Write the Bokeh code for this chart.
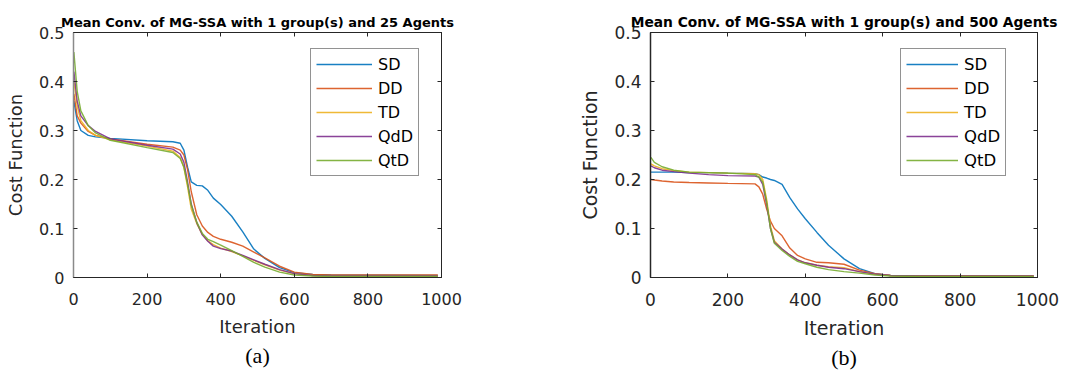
from bokeh.plotting import figure
from bokeh.layouts import row
from bokeh.models import Range1d, LinearAxis, Legend, LegendItem, Title, FixedTicker
from bokeh.embed import file_html
from bokeh.resources import INLINE

series_names = ["SD", "DD", "TD", "QdD", "QtD"]
colors = ["#0072BD", "#D95319", "#EDB120", "#7E2F8E", "#77AC30"]

# Panel (a): 25 agents
iter_a = [1, 10, 20, 40, 60, 100, 200, 270, 290, 300, 310, 320, 335, 350, 365, 380,
          400, 430, 460, 490, 520, 560, 600, 650, 700, 990]
a_SD = [0.36, 0.32, 0.30, 0.29, 0.287, 0.284, 0.279, 0.277, 0.274, 0.26, 0.225, 0.195,
        0.188, 0.187, 0.178, 0.162, 0.149, 0.125, 0.093, 0.058, 0.039, 0.02, 0.01, 0.006, 0.005, 0.004]
a_DD = [0.375, 0.33, 0.315, 0.298, 0.29, 0.283, 0.272, 0.266, 0.26, 0.25, 0.22, 0.175,
        0.128, 0.105, 0.092, 0.084, 0.078, 0.072, 0.064, 0.052, 0.04, 0.023, 0.011, 0.006, 0.005, 0.005]
a_TD = [0.40, 0.35, 0.32, 0.30, 0.29, 0.281, 0.268, 0.258, 0.245, 0.225, 0.185, 0.14,
        0.11, 0.088, 0.075, 0.067, 0.06, 0.053, 0.044, 0.035, 0.026, 0.015, 0.008, 0.004, 0.003, 0.003]
a_QdD = [0.42, 0.36, 0.33, 0.31, 0.298, 0.283, 0.27, 0.262, 0.252, 0.235, 0.195, 0.15,
         0.112, 0.087, 0.074, 0.064, 0.059, 0.054, 0.045, 0.036, 0.027, 0.016, 0.008, 0.004, 0.003, 0.003]
a_QtD = [0.46, 0.38, 0.34, 0.31, 0.295, 0.28, 0.265, 0.255, 0.243, 0.225, 0.19, 0.148,
         0.113, 0.09, 0.078, 0.073, 0.066, 0.055, 0.043, 0.031, 0.021, 0.011, 0.005, 0.003, 0.002, 0.002]

# Panel (b): 500 agents
iter_b = [1, 10, 30, 60, 100, 150, 200, 270, 280, 290, 300, 310, 320, 340, 360, 380,
          400, 430, 460, 500, 540, 580, 620, 700, 990]
b_SD = [0.215, 0.215, 0.215, 0.215, 0.214, 0.214, 0.213, 0.212, 0.21, 0.205, 0.203, 0.2,
        0.198, 0.19, 0.163, 0.14, 0.12, 0.092, 0.066, 0.038, 0.018, 0.008, 0.004, 0.003, 0.003]
b_DD = [0.2, 0.199, 0.197, 0.195, 0.194, 0.193, 0.192, 0.191, 0.185, 0.17, 0.14, 0.115,
        0.1, 0.085, 0.06, 0.045, 0.038, 0.031, 0.03, 0.027, 0.015, 0.008, 0.004, 0.003, 0.003]
b_TD = [0.232, 0.228, 0.222, 0.218, 0.215, 0.214, 0.213, 0.212, 0.21, 0.2, 0.16, 0.105,
        0.075, 0.058, 0.046, 0.036, 0.03, 0.025, 0.022, 0.02, 0.012, 0.007, 0.004, 0.003, 0.003]
b_QdD = [0.228, 0.224, 0.219, 0.216, 0.213, 0.21, 0.208, 0.207, 0.205, 0.19, 0.15, 0.1,
         0.072, 0.058, 0.046, 0.036, 0.03, 0.025, 0.021, 0.018, 0.012, 0.007, 0.004, 0.003, 0.003]
b_QtD = [0.245, 0.235, 0.226, 0.219, 0.215, 0.214, 0.213, 0.21, 0.205, 0.195, 0.155, 0.1,
         0.07, 0.055, 0.043, 0.033, 0.028, 0.021, 0.016, 0.012, 0.009, 0.005, 0.003, 0.002, 0.002]

x_ticks = [0, 200, 400, 600, 800, 1000]
y_ticks = [0, 0.1, 0.2, 0.3, 0.4, 0.5]
titles = ["Mean Conv. of MG-SSA with 1 group(s) and 25 Agents",
          "Mean Conv. of MG-SSA with 1 group(s) and 500 Agents"]
captions = ["(a)", "(b)"]

FONT = "DejaVu Sans"
TXT = "#262626"


def make_panel(xs, ys_list, title, caption, width, bl, br, fs, legend_x, glyph_w, left_axis_color):
    p = figure(width=width, height=370, output_backend="svg", toolbar_location=None,
               x_range=Range1d(0, 1000), y_range=Range1d(0, 0.5),
               min_border_left=bl, min_border_right=br, min_border_top=32, min_border_bottom=92)
    p.title.text = title
    p.title.text_font = FONT
    p.title.text_font_style = "bold"
    p.title.text_font_size = f"{fs['title']}px"
    p.title.align = "center"
    p.title.text_color = "black"
    p.title.standoff = 5
    p.title.offset = 0
    p.xgrid.visible = False
    p.ygrid.visible = False
    p.outline_line_color = "#262626"
    p.outline_line_width = 1
    p.background_fill_color = "white"
    p.border_fill_color = "white"

    renderers = []
    for name, ys, c in zip(series_names, ys_list, colors):
        r = p.line(xs, ys, line_color=c, line_width=1.4, line_alpha=0.9)
        renderers.append((name, r))

    for ax in (p.xaxis[0], p.yaxis[0]):
        ax.major_tick_in = 4
        ax.major_tick_out = 0
        ax.minor_tick_in = 0
        ax.minor_tick_out = 0
        ax.axis_line_color = TXT
        ax.major_tick_line_color = TXT
        ax.major_label_text_font = FONT
        ax.major_label_text_font_size = f"{fs['tick']}px"
        ax.major_label_text_color = TXT
        ax.axis_label_text_font = FONT
        ax.axis_label_text_font_size = f"{fs['label']}px"
        ax.axis_label_text_font_style = "normal"
        ax.axis_label_text_color = TXT
    p.yaxis[0].axis_line_color = left_axis_color
    p.yaxis[0].axis_line_width = 1.5
    p.xaxis[0].ticker = FixedTicker(ticks=x_ticks)
    p.yaxis[0].ticker = FixedTicker(ticks=y_ticks)
    p.xaxis[0].axis_label = "Iteration"
    p.yaxis[0].axis_label = "Cost Function"
    p.xaxis[0].major_label_standoff = 15
    p.yaxis[0].major_label_standoff = 9
    p.xaxis[0].axis_label_standoff = 8
    p.yaxis[0].axis_label_standoff = 10

    for loc in ("right", "above"):
        ax = LinearAxis(ticker=FixedTicker(ticks=x_ticks if loc == "above" else y_ticks))
        ax.major_tick_in = 4
        ax.major_tick_out = 0
        ax.minor_tick_in = 0
        ax.minor_tick_out = 0
        ax.major_label_text_font_size = "0px"
        ax.major_label_standoff = 0
        ax.axis_line_color = TXT
        ax.major_tick_line_color = TXT
        ax.major_label_text_color = None
        p.add_layout(ax, loc)

    legend = Legend(items=[LegendItem(label=n, renderers=[r]) for n, r in renderers],
                    location=(legend_x, 101), orientation="vertical")
    legend.label_text_font = FONT
    legend.label_text_font_size = f"{fs['legend']}px"
    legend.label_text_color = "black"
    legend.glyph_width = glyph_w
    legend.glyph_height = 20
    legend.label_height = 20
    legend.spacing = 4
    legend.padding = 5
    legend.margin = 0
    legend.label_standoff = 6
    legend.border_line_color = TXT
    legend.border_line_width = 1
    legend.background_fill_alpha = 1
    p.add_layout(legend, "center")

    cap = Title(text=caption, align="center", text_font="Liberation Serif",
                text_font_size="22px", text_font_style="normal", text_color="black",
                standoff=2, offset=0)
    p.add_layout(cap, "below")
    return p


pa = make_panel(iter_a, [a_SD, a_DD, a_TD, a_QdD, a_QtD], titles[0], captions[0],
                540, 73, 99, dict(title=13, tick=16, label=18, legend=16), 237, 56, "#8a8a8a")
pb = make_panel(iter_b, [b_SD, b_DD, b_TD, b_QdD, b_QtD], titles[1], captions[1],
                535, 110, 38, dict(title=13.8, tick=17, label=19, legend=16.5), 250, 52, TXT)

layout = row(pa, pb)
open("out.html", "w").write(file_html(layout, INLINE))
